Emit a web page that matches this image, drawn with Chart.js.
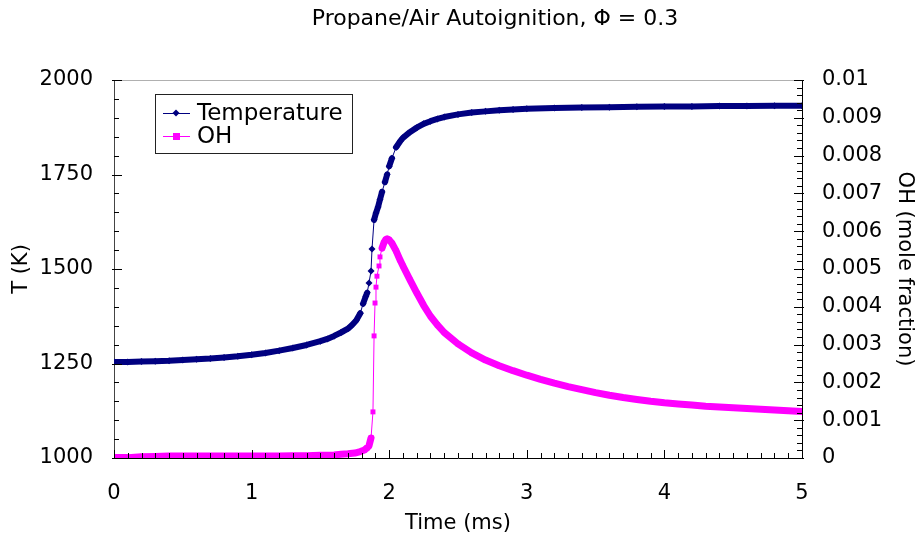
<!DOCTYPE html>
<html>
<head>
<meta charset="utf-8">
<script src="https://cdn.jsdelivr.net/npm/chart.js@4.4.1/dist/chart.umd.min.js"></script>
<style>
  html, body { margin: 0; padding: 0; background: #fff; }
</style>
</head>
<body>
<canvas id="chart" width="917" height="541"></canvas>
<script>
// values
const tempTimeMs = [0, 0.1, 0.2, 0.3, 0.4, 0.5, 0.6, 0.7, 0.8, 0.9, 1.0, 1.1, 1.2, 1.3, 1.4, 1.5, 1.55, 1.6, 1.65, 1.7,
  1.73, 1.76, 1.79, 1.81, 1.83, 1.84, 1.853, 1.868, 1.875, 1.89, 1.904, 1.919, 1.933, 1.948, 1.969, 1.985,
  2.0, 2.02, 2.05, 2.08, 2.1, 2.15, 2.2, 2.25, 2.3, 2.35, 2.4, 2.5, 2.6, 2.7, 2.8, 2.9, 3.0,
  3.2, 3.4, 3.6, 3.8, 4.0, 4.2, 4.4, 4.6, 4.8, 5.0];
const tempK = [1254, 1254, 1255, 1256, 1257, 1259, 1261, 1263, 1266, 1269, 1273, 1278, 1284, 1291, 1299, 1309, 1315, 1323, 1332, 1342,
  1352, 1364, 1383, 1408, 1428, 1437, 1463, 1495, 1553, 1630, 1648, 1664, 1684, 1704, 1730, 1750,
  1772, 1793, 1822, 1838, 1847, 1862, 1874, 1884, 1891, 1897, 1902, 1909, 1914, 1917, 1920, 1922, 1924,
  1926, 1927, 1928, 1929, 1930, 1930, 1931, 1931, 1932, 1932];

const ohTimeMs = [0, 0.1, 0.2, 0.3, 0.4, 0.5, 0.6, 0.7, 0.8, 0.9, 1.0, 1.1, 1.2, 1.3, 1.4, 1.5, 1.6, 1.65, 1.7, 1.75,
  1.79, 1.82, 1.84, 1.853, 1.868, 1.882, 1.89, 1.897, 1.904, 1.911, 1.926, 1.933, 1.948, 1.962, 1.975, 1.985,
  2.0, 2.02, 2.05, 2.08, 2.1, 2.15, 2.2, 2.25, 2.3, 2.35, 2.4, 2.5, 2.6, 2.7, 2.8, 2.9, 3.0,
  3.1, 3.2, 3.3, 3.4, 3.5, 3.6, 3.7, 3.8, 3.9, 4.0, 4.1, 4.2, 4.3, 4.4, 4.5, 4.6, 4.7, 4.8, 4.9, 5.0];
const ohMoleFrac = [0.00001, 0.00001, 0.00003, 0.00004, 0.00005, 0.00005, 0.00005, 0.00005, 0.00005, 0.00005, 0.00005, 0.00005, 0.00005, 0.00006, 0.00006, 0.00007, 0.00008, 0.0001, 0.00011, 0.00013,
  0.00017, 0.00021, 0.00027, 0.00032, 0.00053, 0.00122, 0.00323, 0.0041, 0.00452, 0.00481, 0.00508, 0.00532, 0.00555, 0.0057, 0.00578, 0.0058,
  0.00577, 0.00568, 0.00548, 0.00523, 0.00508, 0.00472, 0.00437, 0.00404, 0.00375, 0.00352, 0.00332, 0.00302, 0.00278, 0.00259, 0.00244, 0.00231, 0.00219,
  0.00208, 0.00198, 0.00189, 0.00181, 0.00173, 0.00166, 0.0016, 0.00155, 0.0015, 0.00146, 0.00143, 0.0014, 0.00137, 0.00135, 0.00133, 0.00131, 0.00129, 0.00127, 0.00125, 0.00123];

const seriesNames = ['Temperature', 'OH'];
const chartTitle = 'Propane/Air Autoignition, \u03A6 = 0.3';

const FONT = 'DejaVu Sans';
const navy = '#000080';
const magenta = '#ff00ff';

// thin line where the curve jumps steeply, thick band where the markers crowd together
const bandWidth = (w) => (ctx) => {
  const dy = Math.abs(ctx.p1.y - ctx.p0.y);
  const dx = Math.abs(ctx.p1.x - ctx.p0.x);
  return dy > 8 && dy > 2.5 * dx ? 1 : w;
};

const decor = {
  id: 'decor',
  afterDraw(chart) {
    const { ctx, chartArea: a, scales } = chart;
    ctx.save();
    // grey top border of plot area
    ctx.strokeStyle = '#b0b0b0';
    ctx.lineWidth = 1;
    ctx.beginPath();
    ctx.moveTo(a.left, a.top + 0.5);
    ctx.lineTo(a.right, a.top + 0.5);
    ctx.stroke();

    // inward tick marks
    ctx.strokeStyle = '#000';
    ctx.beginPath();
    for (let i = 0; i <= 50; i++) {
      const px = Math.round(scales.x.getPixelForValue(i / 10)) + 0.5;
      const len = i % 10 === 0 ? 8 : 5;
      ctx.moveTo(px, a.bottom);
      ctx.lineTo(px, a.bottom - len);
    }
    for (let i = 0; i <= 20; i++) {
      const py = Math.round(scales.yT.getPixelForValue(1000 + i * 50)) + 0.5;
      const len = i % 5 === 0 ? 8 : 5;
      ctx.moveTo(a.left - (i % 5 === 0 ? 2 : 0), py);
      ctx.lineTo(a.left + len, py);
    }
    for (let i = 0; i <= 50; i++) {
      const py = Math.round(scales.yOH.getPixelForValue(i * 0.0002)) + 0.5;
      const len = i % 5 === 0 ? 8 : 5;
      ctx.moveTo(a.right + (i % 5 === 0 ? 2 : 0), py);
      ctx.lineTo(a.right - len, py);
    }
    ctx.stroke();

    // title
    ctx.fillStyle = '#000';
    ctx.font = '22px "' + FONT + '"';
    ctx.textAlign = 'center';
    ctx.textBaseline = 'middle';
    ctx.fillText(chartTitle, 495, 19);

    // legend box
    const lx = 155, ly = 94, lw = 197, lh = 59;
    ctx.fillStyle = '#fff';
    ctx.fillRect(lx, ly, lw, lh);
    ctx.strokeStyle = '#222';
    ctx.strokeRect(lx + 0.5, ly + 0.5, lw, lh);
    const rows = [
      { name: seriesNames[0], color: navy, y: 113, shape: 'diamond' },
      { name: seriesNames[1], color: magenta, y: 136, shape: 'square' }
    ];
    rows.forEach(r => {
      ctx.strokeStyle = r.color;
      ctx.lineWidth = 1;
      ctx.beginPath();
      ctx.moveTo(163, r.y + 0.5);
      ctx.lineTo(190, r.y + 0.5);
      ctx.stroke();
      ctx.fillStyle = r.color;
      if (r.shape === 'diamond') {
        ctx.beginPath();
        ctx.moveTo(176, r.y - 3.5);
        ctx.lineTo(179.5, r.y);
        ctx.lineTo(176, r.y + 3.5);
        ctx.lineTo(172.5, r.y);
        ctx.closePath();
        ctx.fill();
      } else {
        ctx.fillRect(173, r.y - 3, 7, 7);
      }
      ctx.fillStyle = '#000';
      ctx.font = '23px "' + FONT + '"';
      ctx.textAlign = 'left';
      ctx.fillText(r.name, 197, r.y + 1);
    });
    ctx.restore();
  }
};

const tickFont = { family: FONT, size: 21 };

new Chart(document.getElementById('chart'), {
  type: 'line',
  data: {
    datasets: [
      {
        label: seriesNames[0],
        data: tempTimeMs.map((t, i) => ({ x: t, y: tempK[i] })),
        yAxisID: 'yT',
        borderColor: navy,
        backgroundColor: navy,
        pointStyle: 'rectRot',
        pointRadius: 3.5,
        pointBorderWidth: 0,
        borderWidth: 1,
        borderJoinStyle: 'round',
        borderCapStyle: 'round',
        segment: { borderWidth: bandWidth(6) }
      },
      {
        label: seriesNames[1],
        data: ohTimeMs.map((t, i) => ({ x: t, y: ohMoleFrac[i] })),
        yAxisID: 'yOH',
        borderColor: magenta,
        backgroundColor: magenta,
        pointStyle: 'rect',
        pointRadius: 3.5,
        pointBorderWidth: 0,
        borderWidth: 1,
        borderJoinStyle: 'round',
        borderCapStyle: 'round',
        segment: { borderWidth: bandWidth(7) }
      }
    ]
  },
  options: {
    responsive: false,
    animation: false,
    layout: { padding: { top: 80, left: 0, right: 0, bottom: 0 } },
    plugins: {
      legend: { display: false },
      tooltip: { enabled: false },
      title: { display: false }
    },
    scales: {
      x: {
        type: 'linear',
        min: 0, max: 5,
        ticks: { stepSize: 1, font: tickFont, color: '#000', padding: 23, maxRotation: 0 },
        grid: { display: false, drawTicks: false },
        border: { color: '#000', width: 1 },
        title: { display: true, text: 'Time (ms)', font: tickFont, color: '#000', padding: { top: 0, bottom: 5 } },
        afterFit: s => { s.height = 83; }
      },
      yT: {
        position: 'left',
        min: 1000, max: 2000,
        ticks: { stepSize: 250, font: tickFont, color: '#000', padding: 21, callback: v => String(v) },
        grid: { display: false, drawTicks: false },
        border: { color: '#444', width: 1 },
        title: { display: true, text: 'T (K)', font: tickFont, color: '#000', padding: { top: 9, bottom: 0 } },
        afterFit: s => { s.width = 114; }
      },
      yOH: {
        position: 'right',
        min: 0, max: 0.01,
        ticks: {
          stepSize: 0.001, font: tickFont, color: '#000', padding: 20,
          callback: v => String(Number(v.toFixed(3)))
        },
        grid: { display: false, drawTicks: false },
        border: { color: '#000', width: 1 },
        title: { display: true, text: 'OH (mole fraction)', font: tickFont, color: '#000', padding: { top: 0, bottom: 0 } },
        afterFit: s => { s.width = 115; }
      }
    }
  },
  plugins: [decor]
});
</script>
</body>
</html>
